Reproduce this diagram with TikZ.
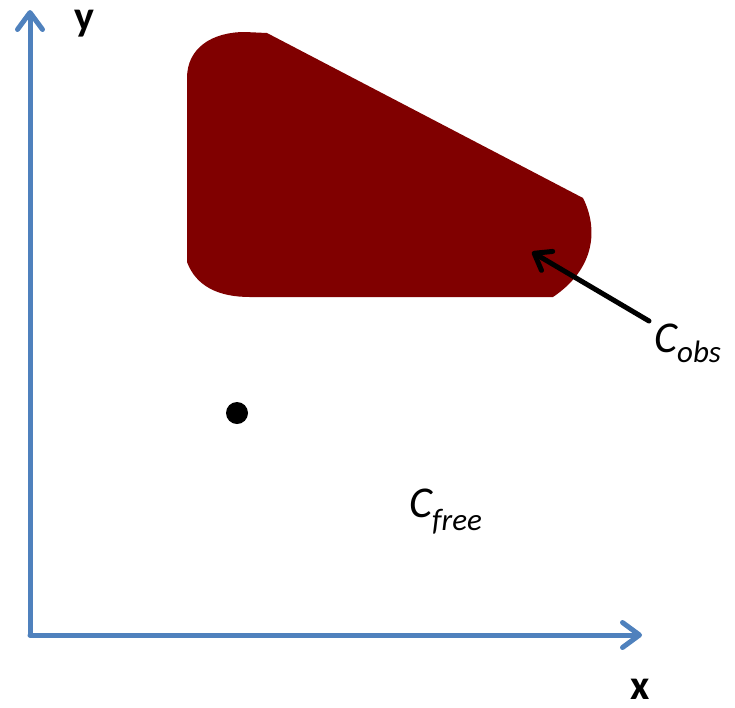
\documentclass[tikz,border=0pt]{standalone}
\usepackage{fontspec}
\setmainfont{Carlito}
\usetikzlibrary{arrows.meta}
\definecolor{axisblue}{HTML}{4F81BD}
\definecolor{obsred}{HTML}{800000}
\tikzset{
  axisline/.style={draw=axisblue, line width=5pt, line cap=round,
    -{Straight Barb[length=17pt,width=25pt,round]}},
  ptr/.style={draw=black, line width=5pt, line cap=round,
    -{Straight Barb[length=15pt,width=22pt,round]}},
  axlabel/.style={inner sep=0pt, anchor=base, font=\fontsize{42}{42}\selectfont\bfseries},
  clabel/.style={inner sep=0pt, anchor=base west},
}
\newcommand{\mysym}[2]{{\fontsize{44}{44}\selectfont\itshape C}\raisebox{#2}{\fontsize{31}{31}\selectfont\itshape #1}}
\begin{document}
\begin{tikzpicture}[x=1pt,y=-1pt]
\path[use as bounding box] (0,0) rectangle (735,707);
% obstacle
\fill[obsred] (187,262) -- (187,78)
  .. controls (187,48) and (212,32) .. (245,32) -- (267,33) -- (583,198)
  .. controls (598,228) and (596,268) .. (553,297) -- (250,297)
  .. controls (218,297) and (196,286) .. (187,262) -- cycle;
% axes
\coordinate (O) at (30,635);
\coordinate (ytip) at (30,10);
\coordinate (xtip) at (642,635);
\draw[axisline] (O) -- (ytip);
\draw[axisline] (O) -- (xtip);
\node[axlabel] (ylab) at (84,30) {y};
\node[axlabel] (xlab) at (640,699) {x};
% point
\node[circle, fill=black, inner sep=0pt, minimum size=22pt] (pt) at (237,413) {};
% labels
\node[clabel] (cobs) at (654,352) {\mysym{obs}{-10pt}};
\node[clabel] (cfree) at (409,517) {\mysym{free}{-13pt}};
\coordinate (obsin) at (532,252);
\coordinate (obsstart) at (649,321);
\draw[ptr] (obsstart) -- (obsin);
\end{tikzpicture}
\end{document}
